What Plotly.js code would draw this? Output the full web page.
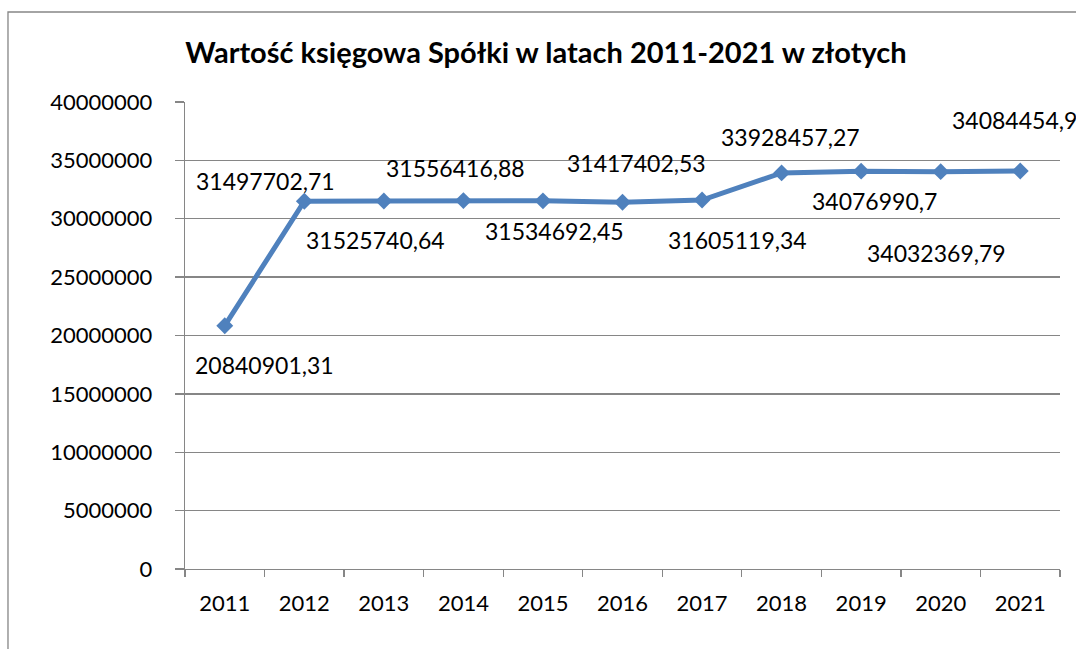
<!DOCTYPE html>
<html>
<head>
<meta charset="utf-8">
<script src="https://cdn.plot.ly/plotly-3.0.1.min.js"></script>
<style>
  html, body { margin: 0; padding: 0; background: #ffffff; }
  #chart { width: 1076px; height: 649px; }
</style>
</head>
<body>
<div id="chart"></div>
<script>
// ---- data ----
const years = ["2011", "2012", "2013", "2014", "2015", "2016", "2017", "2018", "2019", "2020", "2021"];
const bookValues = [20840901.31, 31497702.71, 31525740.64, 31556416.88, 31534692.45, 31417402.53,
                    31605119.34, 33928457.27, 34076990.7, 34032369.79, 34084454.9];
const yTickValues = [0, 5000000, 10000000, 15000000, 20000000, 25000000, 30000000, 35000000, 40000000];
const chartTitle = "Wartość księgowa Spółki w latach 2011-2021 w złotych";

// ---- label placement (style only: pixel shifts of each data label) ----
const labelShiftX = [40, -39, -8, -8, 12, 14, 35, 9, 13, -4, -6];
const labelShiftY = [-39, 20, -39, 33, -30, 39, -40, 36, -30, -81, 51];

const FONT = "Lato, 'Open Sans', sans-serif";
const GRID = "#868686";
const BLUE = "#4F81BD";

const fmt = v => String(v).replace(".", ",");

const trace = {
  x: years,
  y: bookValues,
  type: "scatter",
  mode: "lines+markers",
  line: { color: BLUE, width: 5 },
  marker: { symbol: "diamond", size: 13, color: BLUE },
  hoverinfo: "x+y",
  cliponaxis: false
};

// category axis: annotation x given as category index
const annotations = years.map((yr, i) => ({
  x: i,
  y: bookValues[i],
  xref: "x",
  yref: "y",
  text: fmt(bookValues[i]),
  showarrow: false,
  xanchor: "center",
  yanchor: "middle",
  xshift: labelShiftX[i],
  yshift: labelShiftY[i],
  font: { family: FONT, size: 23, color: "#000000" }
}));

const layout = {
  width: 1076,
  height: 649,
  paper_bgcolor: "#ffffff",
  plot_bgcolor: "#ffffff",
  margin: { l: 185, r: 16, t: 102, b: 80, pad: 0 },
  showlegend: false,
  title: {
    text: "<b>" + chartTitle + "</b>",
    font: { family: FONT, size: 29, color: "#000000" },
    x: 0.5074,
    xref: "container",
    xanchor: "center",
    y: 0.918,
    yref: "container",
    yanchor: "middle"
  },
  xaxis: {
    type: "category",
    categoryorder: "array",
    categoryarray: years,
    range: [-0.5, years.length - 0.5],
    showgrid: false,
    zeroline: false,
    showline: true,
    linecolor: GRID,
    linewidth: 1.3,
    ticks: "outside",
    tickson: "boundaries",
    ticklen: 7,
    tickwidth: 1.3,
    tickcolor: GRID,
    ticklabelstandoff: 14,
    tickfont: { family: FONT, size: 22, color: "#000000" },
    fixedrange: true
  },
  yaxis: {
    range: [0, 40000000],
    tickmode: "array",
    tickvals: yTickValues,
    ticktext: yTickValues.map(v => String(v)),
    showgrid: true,
    gridcolor: GRID,
    gridwidth: 1.3,
    zeroline: false,
    showline: true,
    linecolor: GRID,
    linewidth: 1.3,
    ticks: "outside",
    ticklen: 9,
    tickwidth: 1.3,
    tickcolor: GRID,
    ticklabelstandoff: 18,
    tickfont: { family: FONT, size: 22, color: "#000000" },
    fixedrange: true
  },
  shapes: [{
    type: "rect",
    xref: "paper",
    yref: "paper",
    x0: -0.2023,
    x1: 1.2,
    y0: -0.3,
    y1: 1.1927,
    line: { color: GRID, width: 1.3 },
    fillcolor: "rgba(0,0,0,0)",
    layer: "below"
  }],
  annotations: annotations
};

Plotly.newPlot("chart", [trace], layout, { displayModeBar: false, staticPlot: true });
</script>
</body>
</html>
